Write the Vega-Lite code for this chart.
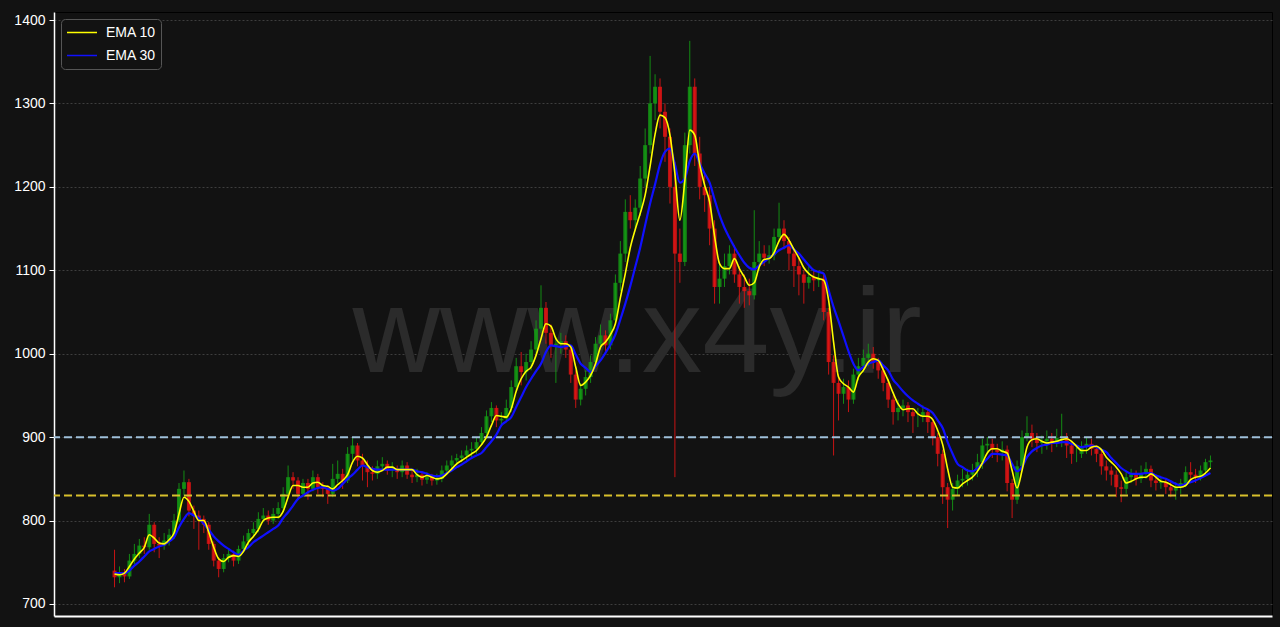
{
"$schema":"https://vega.github.io/schema/vega-lite/v6.json",
"width":1218,"height":604,
"autosize":{"type":"none"},
"padding":{"left":54,"top":12,"right":8,"bottom":11},
"background":"#121212",
"config":{"view":{"fill":"#121212","stroke":"#000000","strokeWidth":1},"font":"Liberation Sans"},
"datasets":{"d":[
{"t":0,"o":740,"h":765,"l":720,"c":732,"e10":736,"e30":737},
{"t":1,"o":732,"h":745,"l":725,"c":738,"e10":735,"e30":737},
{"t":2,"o":738,"h":742,"l":726,"c":733,"e10":737,"e30":737},
{"t":3,"o":733,"h":760,"l":730,"c":752,"e10":745,"e30":740},
{"t":4,"o":752,"h":772,"l":748,"c":760,"e10":754,"e30":746},
{"t":5,"o":760,"h":778,"l":755,"c":770,"e10":761,"e30":751},
{"t":6,"o":770,"h":780,"l":760,"c":768,"e10":768,"e30":757},
{"t":7,"o":768,"h":808,"l":765,"c":795,"e10":783,"e30":763},
{"t":8,"o":795,"h":798,"l":762,"c":772,"e10":779,"e30":766},
{"t":9,"o":772,"h":780,"l":755,"c":770,"e10":773,"e30":769},
{"t":10,"o":770,"h":785,"l":765,"c":776,"e10":772,"e30":771},
{"t":11,"o":776,"h":790,"l":770,"c":783,"e10":777,"e30":775},
{"t":12,"o":783,"h":808,"l":778,"c":800,"e10":785,"e30":780},
{"t":13,"o":800,"h":845,"l":798,"c":838,"e10":808,"e30":792},
{"t":14,"o":838,"h":860,"l":830,"c":846,"e10":828,"e30":802},
{"t":15,"o":846,"h":850,"l":805,"c":812,"e10":823,"e30":809},
{"t":16,"o":812,"h":818,"l":790,"c":806,"e10":811,"e30":806},
{"t":17,"o":806,"h":812,"l":765,"c":802,"e10":800,"e30":803},
{"t":18,"o":802,"h":806,"l":785,"c":795,"e10":800,"e30":796},
{"t":19,"o":795,"h":798,"l":765,"c":772,"e10":786,"e30":789},
{"t":20,"o":772,"h":775,"l":745,"c":752,"e10":768,"e30":781},
{"t":21,"o":752,"h":756,"l":732,"c":742,"e10":754,"e30":775},
{"t":22,"o":742,"h":760,"l":738,"c":755,"e10":751,"e30":770},
{"t":23,"o":755,"h":766,"l":750,"c":760,"e10":756,"e30":766},
{"t":24,"o":760,"h":764,"l":745,"c":752,"e10":758,"e30":762},
{"t":25,"o":752,"h":770,"l":748,"c":766,"e10":757,"e30":759},
{"t":26,"o":766,"h":782,"l":762,"c":775,"e10":763,"e30":764},
{"t":27,"o":775,"h":790,"l":770,"c":785,"e10":774,"e30":768},
{"t":28,"o":785,"h":798,"l":780,"c":790,"e10":781,"e30":774},
{"t":29,"o":790,"h":810,"l":786,"c":802,"e10":789,"e30":778},
{"t":30,"o":802,"h":815,"l":798,"c":806,"e10":800,"e30":782},
{"t":31,"o":806,"h":812,"l":795,"c":800,"e10":803,"e30":786},
{"t":32,"o":800,"h":815,"l":796,"c":808,"e10":804,"e30":790},
{"t":33,"o":808,"h":822,"l":802,"c":815,"e10":804,"e30":794},
{"t":34,"o":815,"h":840,"l":810,"c":832,"e10":811,"e30":803},
{"t":35,"o":832,"h":866,"l":828,"c":852,"e10":828,"e30":810},
{"t":36,"o":852,"h":858,"l":838,"c":848,"e10":842,"e30":818},
{"t":37,"o":848,"h":852,"l":825,"c":832,"e10":842,"e30":826},
{"t":38,"o":832,"h":850,"l":828,"c":845,"e10":840,"e30":830},
{"t":39,"o":845,"h":850,"l":825,"c":838,"e10":840,"e30":834},
{"t":40,"o":838,"h":860,"l":835,"c":852,"e10":845,"e30":837},
{"t":41,"o":852,"h":856,"l":832,"c":840,"e10":846,"e30":839},
{"t":42,"o":840,"h":846,"l":828,"c":838,"e10":842,"e30":840},
{"t":43,"o":838,"h":842,"l":820,"c":832,"e10":841,"e30":838},
{"t":44,"o":832,"h":868,"l":828,"c":850,"e10":838,"e30":836},
{"t":45,"o":850,"h":872,"l":845,"c":856,"e10":843,"e30":838},
{"t":46,"o":856,"h":862,"l":838,"c":848,"e10":848,"e30":844},
{"t":47,"o":848,"h":888,"l":845,"c":880,"e10":855,"e30":850},
{"t":48,"o":880,"h":900,"l":872,"c":890,"e10":870,"e30":855},
{"t":49,"o":890,"h":893,"l":865,"c":872,"e10":877,"e30":861},
{"t":50,"o":872,"h":880,"l":848,"c":866,"e10":875,"e30":866},
{"t":51,"o":866,"h":872,"l":840,"c":858,"e10":867,"e30":864},
{"t":52,"o":858,"h":865,"l":848,"c":856,"e10":860,"e30":862},
{"t":53,"o":856,"h":872,"l":850,"c":865,"e10":858,"e30":861},
{"t":54,"o":865,"h":876,"l":860,"c":868,"e10":860,"e30":861},
{"t":55,"o":868,"h":872,"l":855,"c":860,"e10":864,"e30":861},
{"t":56,"o":860,"h":870,"l":852,"c":862,"e10":864,"e30":861},
{"t":57,"o":862,"h":866,"l":850,"c":858,"e10":861,"e30":861},
{"t":58,"o":858,"h":872,"l":852,"c":866,"e10":861,"e30":861},
{"t":59,"o":866,"h":870,"l":850,"c":855,"e10":861,"e30":861},
{"t":60,"o":855,"h":860,"l":845,"c":852,"e10":861,"e30":861},
{"t":61,"o":852,"h":862,"l":846,"c":855,"e10":855,"e30":859},
{"t":62,"o":855,"h":858,"l":842,"c":849,"e10":852,"e30":858},
{"t":63,"o":849,"h":858,"l":844,"c":852,"e10":854,"e30":856},
{"t":64,"o":852,"h":856,"l":842,"c":848,"e10":852,"e30":854},
{"t":65,"o":848,"h":856,"l":843,"c":850,"e10":850,"e30":853},
{"t":66,"o":850,"h":866,"l":846,"c":860,"e10":851,"e30":854},
{"t":67,"o":860,"h":872,"l":855,"c":866,"e10":856,"e30":857},
{"t":68,"o":866,"h":878,"l":862,"c":872,"e10":862,"e30":860},
{"t":69,"o":872,"h":880,"l":866,"c":875,"e10":868,"e30":864},
{"t":70,"o":875,"h":884,"l":870,"c":878,"e10":872,"e30":867},
{"t":71,"o":878,"h":890,"l":872,"c":884,"e10":876,"e30":871},
{"t":72,"o":884,"h":894,"l":876,"c":886,"e10":880,"e30":875},
{"t":73,"o":886,"h":900,"l":880,"c":894,"e10":884,"e30":878},
{"t":74,"o":894,"h":912,"l":890,"c":905,"e10":891,"e30":881},
{"t":75,"o":905,"h":932,"l":900,"c":925,"e10":900,"e30":888},
{"t":76,"o":925,"h":942,"l":918,"c":935,"e10":914,"e30":895},
{"t":77,"o":935,"h":938,"l":912,"c":920,"e10":926,"e30":903},
{"t":78,"o":920,"h":930,"l":914,"c":922,"e10":925,"e30":914},
{"t":79,"o":922,"h":945,"l":918,"c":935,"e10":924,"e30":919},
{"t":80,"o":935,"h":968,"l":930,"c":960,"e10":934,"e30":924},
{"t":81,"o":960,"h":995,"l":955,"c":985,"e10":955,"e30":936},
{"t":82,"o":985,"h":1002,"l":962,"c":978,"e10":970,"e30":948},
{"t":83,"o":978,"h":1000,"l":968,"c":990,"e10":979,"e30":960},
{"t":84,"o":990,"h":1015,"l":980,"c":1005,"e10":984,"e30":970},
{"t":85,"o":1005,"h":1040,"l":1000,"c":1030,"e10":998,"e30":979},
{"t":86,"o":1030,"h":1082,"l":1025,"c":1055,"e10":1018,"e30":988},
{"t":87,"o":1055,"h":1062,"l":1012,"c":1025,"e10":1036,"e30":1002},
{"t":88,"o":1025,"h":1035,"l":995,"c":1010,"e10":1033,"e30":1010},
{"t":89,"o":1010,"h":1020,"l":965,"c":1012,"e10":1018,"e30":1009},
{"t":90,"o":1012,"h":1025,"l":1000,"c":1015,"e10":1012,"e30":1008},
{"t":91,"o":1015,"h":1022,"l":995,"c":1005,"e10":1012,"e30":1009},
{"t":92,"o":1005,"h":1010,"l":965,"c":975,"e10":1008,"e30":1010},
{"t":93,"o":975,"h":980,"l":935,"c":945,"e10":984,"e30":999},
{"t":94,"o":945,"h":965,"l":938,"c":958,"e10":962,"e30":988},
{"t":95,"o":958,"h":980,"l":950,"c":972,"e10":966,"e30":983},
{"t":96,"o":972,"h":998,"l":965,"c":990,"e10":974,"e30":978},
{"t":97,"o":990,"h":1020,"l":985,"c":1012,"e10":988,"e30":985},
{"t":98,"o":1012,"h":1035,"l":1005,"c":1022,"e10":1008,"e30":992},
{"t":99,"o":1022,"h":1028,"l":1000,"c":1010,"e10":1014,"e30":1001},
{"t":100,"o":1010,"h":1048,"l":1005,"c":1040,"e10":1023,"e30":1011},
{"t":101,"o":1040,"h":1095,"l":1035,"c":1085,"e10":1036,"e30":1023},
{"t":102,"o":1085,"h":1135,"l":1075,"c":1120,"e10":1067,"e30":1041},
{"t":103,"o":1120,"h":1185,"l":1110,"c":1170,"e10":1096,"e30":1060},
{"t":104,"o":1170,"h":1190,"l":1150,"c":1160,"e10":1127,"e30":1081},
{"t":105,"o":1160,"h":1185,"l":1150,"c":1175,"e10":1149,"e30":1104},
{"t":106,"o":1175,"h":1225,"l":1165,"c":1210,"e10":1168,"e30":1127},
{"t":107,"o":1210,"h":1270,"l":1200,"c":1250,"e10":1190,"e30":1154},
{"t":108,"o":1250,"h":1357,"l":1240,"c":1300,"e10":1225,"e30":1180},
{"t":109,"o":1300,"h":1335,"l":1280,"c":1320,"e10":1263,"e30":1203},
{"t":110,"o":1320,"h":1330,"l":1270,"c":1290,"e10":1286,"e30":1227},
{"t":111,"o":1290,"h":1300,"l":1230,"c":1260,"e10":1283,"e30":1242},
{"t":112,"o":1260,"h":1270,"l":1180,"c":1200,"e10":1262,"e30":1246},
{"t":113,"o":1200,"h":1230,"l":852,"c":1120,"e10":1216,"e30":1227},
{"t":114,"o":1120,"h":1150,"l":1085,"c":1110,"e10":1160,"e30":1205},
{"t":115,"o":1110,"h":1265,"l":1105,"c":1250,"e10":1207,"e30":1210},
{"t":116,"o":1250,"h":1375,"l":1240,"c":1320,"e10":1268,"e30":1231},
{"t":117,"o":1320,"h":1330,"l":1225,"c":1240,"e10":1262,"e30":1240},
{"t":118,"o":1240,"h":1260,"l":1185,"c":1200,"e10":1227,"e30":1228},
{"t":119,"o":1200,"h":1215,"l":1170,"c":1190,"e10":1202,"e30":1216},
{"t":120,"o":1190,"h":1200,"l":1130,"c":1150,"e10":1182,"e30":1205},
{"t":121,"o":1150,"h":1160,"l":1060,"c":1080,"e10":1141,"e30":1185},
{"t":122,"o":1080,"h":1110,"l":1060,"c":1090,"e10":1108,"e30":1166},
{"t":123,"o":1090,"h":1120,"l":1080,"c":1105,"e10":1102,"e30":1151},
{"t":124,"o":1105,"h":1130,"l":1095,"c":1120,"e10":1102,"e30":1139},
{"t":125,"o":1120,"h":1130,"l":1085,"c":1095,"e10":1114,"e30":1128},
{"t":126,"o":1095,"h":1105,"l":1060,"c":1080,"e10":1102,"e30":1118},
{"t":127,"o":1080,"h":1095,"l":1055,"c":1075,"e10":1092,"e30":1109},
{"t":128,"o":1075,"h":1090,"l":1058,"c":1070,"e10":1082,"e30":1103},
{"t":129,"o":1070,"h":1172,"l":1065,"c":1110,"e10":1085,"e30":1101},
{"t":130,"o":1110,"h":1135,"l":1100,"c":1120,"e10":1104,"e30":1106},
{"t":131,"o":1120,"h":1130,"l":1105,"c":1115,"e10":1113,"e30":1110},
{"t":132,"o":1115,"h":1130,"l":1108,"c":1118,"e10":1114,"e30":1115},
{"t":133,"o":1118,"h":1150,"l":1112,"c":1140,"e10":1121,"e30":1119},
{"t":134,"o":1140,"h":1181,"l":1135,"c":1150,"e10":1135,"e30":1124},
{"t":135,"o":1150,"h":1160,"l":1125,"c":1135,"e10":1143,"e30":1127},
{"t":136,"o":1135,"h":1140,"l":1100,"c":1120,"e10":1136,"e30":1130},
{"t":137,"o":1120,"h":1125,"l":1080,"c":1105,"e10":1125,"e30":1125},
{"t":138,"o":1105,"h":1115,"l":1070,"c":1095,"e10":1115,"e30":1120},
{"t":139,"o":1095,"h":1100,"l":1060,"c":1085,"e10":1103,"e30":1113},
{"t":140,"o":1085,"h":1105,"l":1078,"c":1092,"e10":1096,"e30":1106},
{"t":141,"o":1092,"h":1100,"l":1075,"c":1088,"e10":1092,"e30":1100},
{"t":142,"o":1088,"h":1098,"l":1080,"c":1090,"e10":1090,"e30":1098},
{"t":143,"o":1090,"h":1095,"l":1040,"c":1050,"e10":1088,"e30":1096},
{"t":144,"o":1050,"h":1055,"l":975,"c":990,"e10":1064,"e30":1076},
{"t":145,"o":990,"h":998,"l":878,"c":965,"e10":1014,"e30":1056},
{"t":146,"o":965,"h":975,"l":920,"c":952,"e10":972,"e30":1039},
{"t":147,"o":952,"h":970,"l":940,"c":960,"e10":964,"e30":1021},
{"t":148,"o":960,"h":968,"l":930,"c":945,"e10":960,"e30":1003},
{"t":149,"o":945,"h":982,"l":940,"c":975,"e10":954,"e30":988},
{"t":150,"o":975,"h":995,"l":968,"c":985,"e10":972,"e30":980},
{"t":151,"o":985,"h":1005,"l":978,"c":995,"e10":980,"e30":984},
{"t":152,"o":995,"h":1012,"l":985,"c":1000,"e10":990,"e30":988},
{"t":153,"o":1000,"h":1008,"l":982,"c":990,"e10":994,"e30":990},
{"t":154,"o":990,"h":995,"l":970,"c":980,"e10":992,"e30":992},
{"t":155,"o":980,"h":985,"l":955,"c":965,"e10":981,"e30":986},
{"t":156,"o":965,"h":970,"l":935,"c":945,"e10":968,"e30":980},
{"t":157,"o":945,"h":950,"l":915,"c":930,"e10":953,"e30":969},
{"t":158,"o":930,"h":945,"l":920,"c":935,"e10":940,"e30":962},
{"t":159,"o":935,"h":945,"l":925,"c":938,"e10":933,"e30":955},
{"t":160,"o":938,"h":942,"l":918,"c":930,"e10":934,"e30":949},
{"t":161,"o":930,"h":935,"l":905,"c":925,"e10":934,"e30":944},
{"t":162,"o":925,"h":935,"l":912,"c":925,"e10":928,"e30":940},
{"t":163,"o":925,"h":938,"l":918,"c":930,"e10":925,"e30":936},
{"t":164,"o":930,"h":935,"l":905,"c":918,"e10":925,"e30":933},
{"t":165,"o":918,"h":922,"l":890,"c":900,"e10":921,"e30":929},
{"t":166,"o":900,"h":905,"l":865,"c":880,"e10":908,"e30":920},
{"t":167,"o":880,"h":885,"l":820,"c":840,"e10":891,"e30":911},
{"t":168,"o":840,"h":845,"l":791,"c":825,"e10":862,"e30":894},
{"t":169,"o":825,"h":845,"l":812,"c":838,"e10":840,"e30":880},
{"t":170,"o":838,"h":855,"l":830,"c":848,"e10":839,"e30":868},
{"t":171,"o":848,"h":862,"l":840,"c":850,"e10":844,"e30":864},
{"t":172,"o":850,"h":862,"l":842,"c":855,"e10":848,"e30":860},
{"t":173,"o":855,"h":868,"l":848,"c":860,"e10":852,"e30":859},
{"t":174,"o":860,"h":880,"l":852,"c":870,"e10":859,"e30":863},
{"t":175,"o":870,"h":898,"l":862,"c":890,"e10":869,"e30":868},
{"t":176,"o":890,"h":900,"l":880,"c":892,"e10":881,"e30":874},
{"t":177,"o":892,"h":898,"l":875,"c":885,"e10":886,"e30":880},
{"t":178,"o":885,"h":892,"l":870,"c":882,"e10":886,"e30":880},
{"t":179,"o":882,"h":895,"l":872,"c":885,"e10":883,"e30":879},
{"t":180,"o":885,"h":890,"l":835,"c":845,"e10":881,"e30":878},
{"t":181,"o":845,"h":850,"l":803,"c":825,"e10":860,"e30":868},
{"t":182,"o":825,"h":872,"l":820,"c":865,"e10":839,"e30":859},
{"t":183,"o":865,"h":908,"l":860,"c":900,"e10":860,"e30":864},
{"t":184,"o":900,"h":925,"l":895,"c":905,"e10":888,"e30":876},
{"t":185,"o":905,"h":915,"l":888,"c":898,"e10":897,"e30":883},
{"t":186,"o":898,"h":905,"l":882,"c":893,"e10":898,"e30":887},
{"t":187,"o":893,"h":902,"l":880,"c":895,"e10":895,"e30":890},
{"t":188,"o":895,"h":908,"l":885,"c":898,"e10":893,"e30":891},
{"t":189,"o":898,"h":905,"l":882,"c":894,"e10":894,"e30":893},
{"t":190,"o":894,"h":910,"l":888,"c":899,"e10":895,"e30":893},
{"t":191,"o":899,"h":928,"l":888,"c":900,"e10":897,"e30":894},
{"t":192,"o":900,"h":905,"l":875,"c":890,"e10":898,"e30":894},
{"t":193,"o":890,"h":895,"l":868,"c":880,"e10":895,"e30":892},
{"t":194,"o":880,"h":890,"l":870,"c":880,"e10":889,"e30":890},
{"t":195,"o":880,"h":895,"l":875,"c":888,"e10":884,"e30":888},
{"t":196,"o":888,"h":900,"l":880,"c":892,"e10":884,"e30":889},
{"t":197,"o":892,"h":898,"l":878,"c":886,"e10":888,"e30":890},
{"t":198,"o":886,"h":890,"l":870,"c":880,"e10":889,"e30":888},
{"t":199,"o":880,"h":885,"l":855,"c":865,"e10":885,"e30":885},
{"t":200,"o":865,"h":872,"l":848,"c":860,"e10":876,"e30":882},
{"t":201,"o":860,"h":865,"l":842,"c":855,"e10":870,"e30":875},
{"t":202,"o":855,"h":860,"l":828,"c":840,"e10":864,"e30":869},
{"t":203,"o":840,"h":848,"l":822,"c":838,"e10":856,"e30":863},
{"t":204,"o":838,"h":860,"l":832,"c":852,"e10":845,"e30":859},
{"t":205,"o":852,"h":862,"l":845,"c":855,"e10":847,"e30":856},
{"t":206,"o":855,"h":860,"l":842,"c":850,"e10":850,"e30":856},
{"t":207,"o":850,"h":866,"l":845,"c":856,"e10":852,"e30":856},
{"t":208,"o":856,"h":870,"l":850,"c":862,"e10":852,"e30":857},
{"t":209,"o":862,"h":866,"l":840,"c":848,"e10":856,"e30":857},
{"t":210,"o":848,"h":855,"l":836,"c":845,"e10":852,"e30":854},
{"t":211,"o":845,"h":852,"l":838,"c":846,"e10":847,"e30":852},
{"t":212,"o":846,"h":850,"l":832,"c":840,"e10":846,"e30":850},
{"t":213,"o":840,"h":846,"l":828,"c":836,"e10":843,"e30":847},
{"t":214,"o":836,"h":846,"l":825,"c":840,"e10":840,"e30":844},
{"t":215,"o":840,"h":850,"l":832,"c":845,"e10":840,"e30":842},
{"t":216,"o":845,"h":865,"l":840,"c":858,"e10":842,"e30":844},
{"t":217,"o":858,"h":870,"l":848,"c":855,"e10":849,"e30":846},
{"t":218,"o":855,"h":862,"l":845,"c":852,"e10":852,"e30":848},
{"t":219,"o":852,"h":866,"l":848,"c":860,"e10":853,"e30":851},
{"t":220,"o":860,"h":874,"l":855,"c":870,"e10":857,"e30":854},
{"t":221,"o":870,"h":878,"l":862,"c":872,"e10":863,"e30":857}
],
"wm":[{"t":105.4,"v":978,"label":"www.x4y.ir"}],
"hl":[{"v":900,"k":"a"},{"v":830,"k":"b"}]},
"layer":[
  {"data":{"name":"wm"},
   "mark":{"type":"text","font":"Liberation Sans","fontSize":121,"align":"center","baseline":"alphabetic","fill":"#2b2b2b"},
   "encoding":{
     "x":{"field":"t","type":"quantitative","scale":{"domain":[-11.2,232.4],"nice":false,"zero":false},
          "axis":{"title":null,"labels":false,"ticks":false,"grid":false,"domainColor":"#ffffff","domainWidth":2}},
     "y":{"field":"v","type":"quantitative","scale":{"domain":[685.6,1409.6],"nice":false,"zero":false},
          "axis":{"title":null,"values":[700,800,900,1000,1100,1200,1300,1400],"format":"d","labelColor":"#ffffff","labelFontSize":14,"labelFont":"Liberation Sans","labelPadding":4,
                  "tickColor":"#ffffff","tickSize":5,"domainColor":"#ffffff","domainWidth":1.5,
                  "grid":true,"gridColor":"#4a4a4a","gridDash":[2,2],"gridWidth":0.8}},
     "text":{"field":"label","type":"nominal"}}},
  {"data":{"name":"d"},
   "mark":{"type":"rule","strokeWidth":1,"opacity":0.85},
   "encoding":{
     "x":{"field":"t","type":"quantitative"},
     "y":{"field":"l","type":"quantitative"},
     "y2":{"field":"h"},
     "color":{"condition":{"test":"datum.c >= datum.o","value":"#14a014"},"value":"#e81414"}}},
  {"data":{"name":"d"},
   "mark":{"type":"bar","width":4,"opacity":0.8},
   "encoding":{
     "x":{"field":"t","type":"quantitative"},
     "y":{"field":"o","type":"quantitative"},
     "y2":{"field":"c"},
     "color":{"condition":{"test":"datum.c >= datum.o","value":"#14a014"},"value":"#e81414"}}},
  {"data":{"name":"hl"},
   "transform":[{"filter":"datum.k == 'a'"}],
   "mark":{"type":"rule","strokeDash":[8,4],"strokeWidth":2,"color":"#9fc0da"},
   "encoding":{"y":{"field":"v","type":"quantitative"}}},
  {"data":{"name":"hl"},
   "transform":[{"filter":"datum.k == 'b'"}],
   "mark":{"type":"rule","strokeDash":[8,4],"strokeWidth":2,"color":"#d8c02c"},
   "encoding":{"y":{"field":"v","type":"quantitative"}}},
  {"data":{"name":"d"},
   "mark":{"type":"line","strokeWidth":2.2,"interpolate":"monotone"},
   "encoding":{
     "x":{"field":"t","type":"quantitative"},
     "y":{"field":"e30","type":"quantitative"},
     "color":{"datum":"EMA 30","type":"nominal","scale":{"domain":["EMA 10","EMA 30"],"range":["#ffff00","#1010ff"]},
       "legend":{"title":null,"orient":"none","legendX":7,"legendY":7,"fillColor":"#121212","strokeColor":"#555555","cornerRadius":4,"padding":5,
         "symbolType":"stroke","symbolSize":900,"symbolStrokeWidth":1.6,"clipHeight":17,"labelColor":"#ffffff","labelFontSize":14,"labelFont":"Liberation Sans","labelOffset":8,"rowPadding":6}}}},
  {"data":{"name":"d"},
   "mark":{"type":"line","strokeWidth":1.6,"interpolate":"monotone"},
   "encoding":{
     "x":{"field":"t","type":"quantitative"},
     "y":{"field":"e10","type":"quantitative"},
     "color":{"datum":"EMA 10","type":"nominal"}}}
]
}
